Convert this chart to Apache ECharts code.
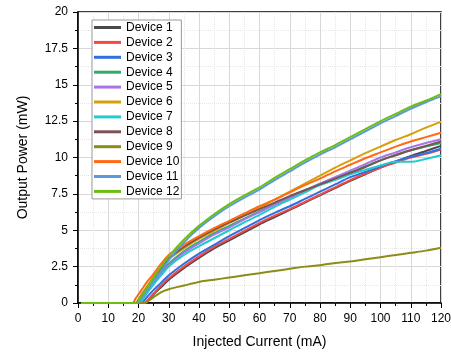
<!DOCTYPE html>
<html>
<head>
<meta charset="utf-8">
<script src="https://cdn.jsdelivr.net/npm/echarts@6/dist/echarts.min.js"></script>
<style>
  html, body { margin: 0; padding: 0; background: #fff; }
  #chart { width: 451px; height: 355px; }
</style>
</head>
<body>
<div id="chart"></div>
<script>
// Injected current sample points (mA)
const current = [1, 18, 19, 20, 21, 22, 23, 25, 27.5, 30, 35, 40, 45, 50, 55, 60, 65, 70, 75, 80, 85, 90, 95, 100, 105, 110, 115, 120];

// Output power per device (mW)
const device1  = [0, 0, 0, 0, 0, 0, 0.15, 0.6, 1.1, 1.6, 2.4, 3.1, 3.75, 4.3, 4.85, 5.4, 5.9, 6.4, 6.9, 7.4, 7.9, 8.4, 8.85, 9.3, 9.7, 10.1, 10.45, 10.8];
const device2  = [0, 0, 0, 0, 0, 0, 0.2, 0.65, 1.2, 1.7, 2.5, 3.2, 3.85, 4.4, 4.95, 5.5, 6.0, 6.45, 6.95, 7.45, 7.95, 8.45, 8.9, 9.3, 9.65, 10.0, 10.25, 10.55];
const device3  = [0, 0, 0, 0, 0, 0.2, 0.45, 0.9, 1.4, 1.9, 2.7, 3.4, 4.0, 4.6, 5.15, 5.7, 6.2, 6.65, 7.15, 7.65, 8.15, 8.65, 9.0, 9.4, 9.75, 10.05, 10.3, 10.6];
const device4  = [0, 0, 0, 0, 0.2, 0.5, 0.8, 1.4, 2.1, 2.7, 3.55, 4.2, 4.8, 5.3, 5.8, 6.3, 6.8, 7.3, 7.75, 8.2, 8.6, 8.95, 9.4, 9.8, 10.2, 10.5, 10.75, 11.0];
const device5  = [0, 0, 0, 0, 0.15, 0.45, 0.75, 1.3, 2.0, 2.6, 3.45, 4.1, 4.7, 5.2, 5.75, 6.25, 6.75, 7.2, 7.7, 8.2, 8.65, 9.1, 9.55, 10.0, 10.35, 10.7, 11.0, 11.25];
const device6  = [0, 0, 0, 0.25, 0.6, 0.9, 1.2, 1.8, 2.4, 3.0, 3.75, 4.4, 4.95, 5.5, 6.0, 6.55, 7.1, 7.65, 8.2, 8.75, 9.3, 9.8, 10.3, 10.75, 11.2, 11.6, 12.05, 12.45];
const device7  = [0, 0, 0, 0, 0.15, 0.45, 0.75, 1.3, 1.9, 2.5, 3.3, 3.9, 4.45, 5.0, 5.55, 6.05, 6.6, 7.1, 7.6, 8.1, 8.45, 8.85, 9.15, 9.45, 9.7, 9.7, 9.9, 10.15];
const device8  = [0, 0, 0, 0.2, 0.5, 0.8, 1.1, 1.7, 2.4, 3.05, 3.85, 4.5, 5.05, 5.55, 6.0, 6.45, 6.9, 7.35, 7.75, 8.15, 8.55, 8.95, 9.35, 9.8, 10.15, 10.5, 10.8, 11.1];
const device9  = [0, 0, 0, 0, 0, 0, 0.1, 0.4, 0.75, 0.95, 1.2, 1.45, 1.6, 1.75, 1.9, 2.05, 2.2, 2.35, 2.5, 2.6, 2.75, 2.85, 3.0, 3.15, 3.3, 3.45, 3.6, 3.8];
const device10 = [0, 0, 0.3, 0.6, 0.9, 1.2, 1.5, 2.0, 2.7, 3.3, 4.0, 4.6, 5.15, 5.65, 6.15, 6.65, 7.1, 7.6, 8.1, 8.55, 9.05, 9.5, 9.95, 10.35, 10.75, 11.1, 11.4, 11.7];
const device11 = [0, 0, 0, 0.05, 0.3, 0.6, 0.9, 1.5, 2.2, 2.95, 4.15, 5.15, 5.95, 6.65, 7.25, 7.8, 8.45, 9.05, 9.65, 10.2, 10.7, 11.25, 11.8, 12.35, 12.85, 13.35, 13.8, 14.2];
const device12 = [0, 0, 0, 0.2, 0.5, 0.8, 1.1, 1.75, 2.5, 3.2, 4.35, 5.3, 6.1, 6.8, 7.4, 7.95, 8.6, 9.2, 9.8, 10.35, 10.85, 11.4, 11.95, 12.5, 13.0, 13.5, 13.9, 14.35];

const names  = ['Device 1', 'Device 2', 'Device 3', 'Device 4', 'Device 5', 'Device 6',
                'Device 7', 'Device 8', 'Device 9', 'Device 10', 'Device 11', 'Device 12'];
const values = [device1, device2, device3, device4, device5, device6,
                device7, device8, device9, device10, device11, device12];
const colors = ['#4a4a4a', '#f54848', '#2f6fe0', '#2eae68', '#a874e8', '#d4a00c',
                '#20cccc', '#7d5252', '#8c8c16', '#ff6a14', '#5b9ad8', '#6cbf12'];

const FONT = 'Liberation Sans, Arial, sans-serif';

const series = names.map((name, i) => ({
  name: name,
  type: 'line',
  data: current.map((c, k) => [c, values[i][k]]),
  showSymbol: false,
  smooth: 0.3,
  lineStyle: { width: 2, color: colors[i] },
  itemStyle: { color: colors[i] }
}));

const chart = echarts.init(document.getElementById('chart'), null, { renderer: 'canvas' });
chart.setOption({
  animation: false,
  backgroundColor: '#fff',
  textStyle: { fontFamily: FONT },
  grid: {
    left: 78, right: 10, top: 12, bottom: 52,
    containLabel: false,
    outerBoundsMode: 'none',
    show: true, borderColor: '#000', borderWidth: 1.5, backgroundColor: 'transparent'
  },
  legend: {
    orient: 'vertical',
    left: 92, top: 20,
    padding: [1, 2, 1, 2],
    itemGap: 1.9,
    itemWidth: 27, itemHeight: 3,
    icon: 'rect',
    backgroundColor: '#fff',
    borderColor: '#999', borderWidth: 1,
    textStyle: { fontFamily: FONT, fontSize: 12, color: '#000', lineHeight: 13 },
    data: names
  },
  xAxis: {
    type: 'value',
    min: 0, max: 120, interval: 10,
    name: 'Injected Current (mA)',
    nameLocation: 'middle',
    nameGap: 32,
    nameTextStyle: { fontFamily: FONT, fontSize: 14, color: '#000' },
    axisLine: { show: true, lineStyle: { color: '#000', width: 1.5 } },
    axisTick: { show: true, inside: false, length: 5, lineStyle: { color: '#000' } },
    minorTick: { show: true, splitNumber: 2, length: 3, lineStyle: { color: '#000' } },
    axisLabel: { fontFamily: FONT, fontSize: 12, color: '#000', margin: 10 },
    splitLine: { show: true, lineStyle: { color: '#d8d8d8', width: 1 } },
    minorSplitLine: { show: true, lineStyle: { color: '#e6e6e6', type: 'dotted', width: 1 } }
  },
  yAxis: {
    type: 'value',
    min: 0, max: 20, interval: 2.5,
    name: 'Output Power (mW)',
    nameLocation: 'middle',
    nameGap: 48,
    nameRotate: 90,
    nameTextStyle: { fontFamily: FONT, fontSize: 14, color: '#000' },
    axisLine: { show: true, lineStyle: { color: '#000', width: 1.5 } },
    axisTick: { show: true, inside: false, length: 5, lineStyle: { color: '#000' } },
    minorTick: { show: true, splitNumber: 2, length: 3, lineStyle: { color: '#000' } },
    axisLabel: { fontFamily: FONT, fontSize: 12, color: '#000', margin: 10,
                 formatter: v => String(v) },
    splitLine: { show: true, lineStyle: { color: '#d8d8d8', width: 1 } },
    minorSplitLine: { show: true, lineStyle: { color: '#e6e6e6', type: 'dotted', width: 1 } }
  },
  series: series
});
</script>
</body>
</html>
